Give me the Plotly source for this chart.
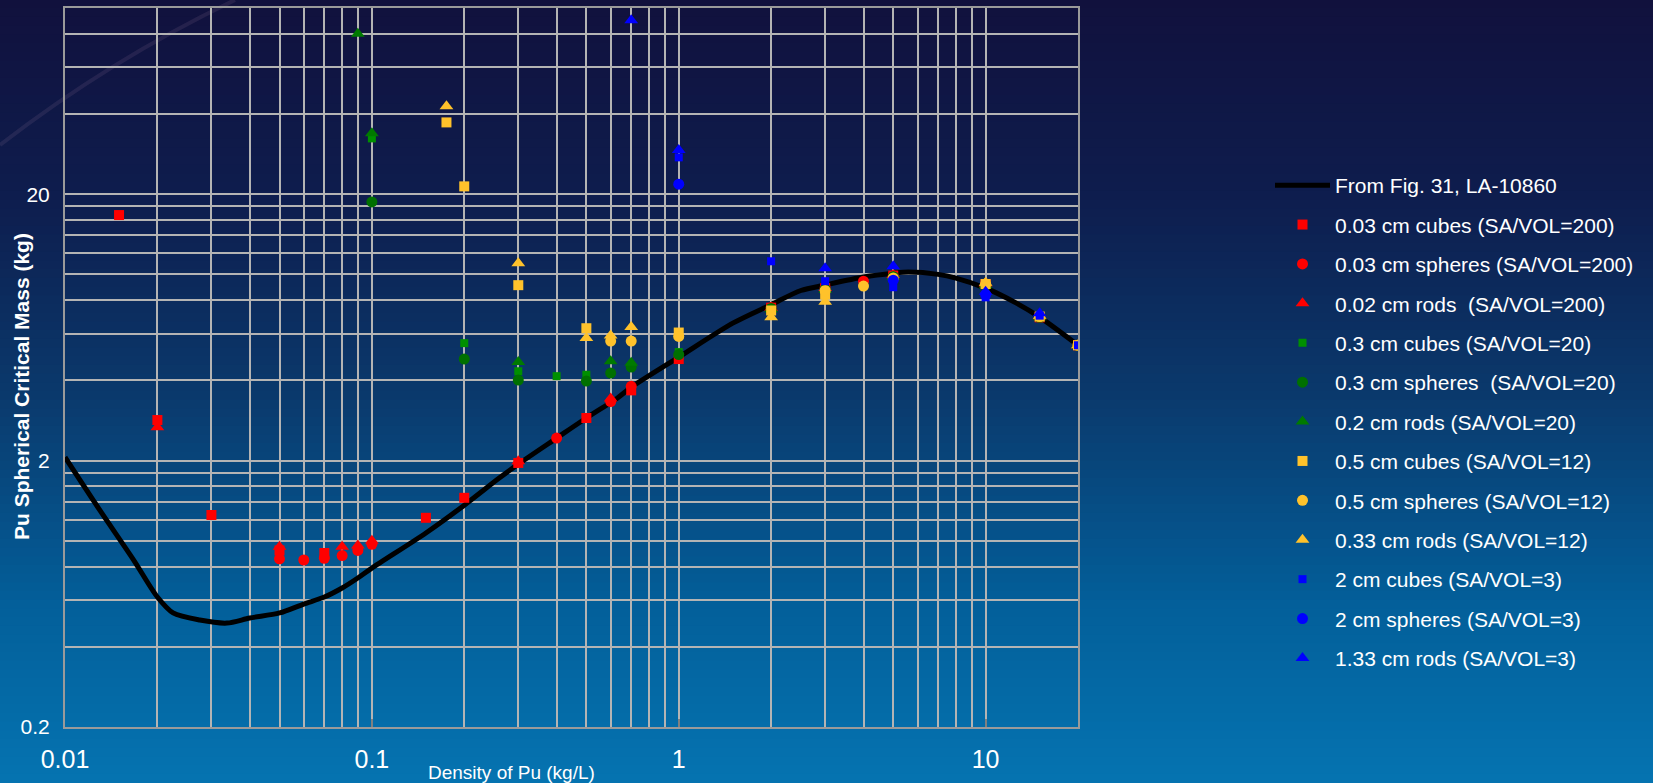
import math
import plotly.graph_objects as go

# ---------------- data ----------------
curve_x = [0.01, 0.013, 0.0167, 0.02, 0.0225, 0.0275, 0.0337, 0.04, 0.05, 0.06, 0.07, 0.08,
           0.09, 0.1, 0.15, 0.2, 0.26, 0.3, 0.4, 0.5, 0.63, 0.7, 1, 1.5, 2, 2.5, 3, 4, 5,
           5.6, 7, 8, 10, 12.6, 15, 20]
curve_y = [2.06, 1.30, 0.85, 0.615, 0.536, 0.504, 0.491, 0.513, 0.536, 0.579, 0.615, 0.665,
           0.725, 0.79, 1.07, 1.36, 1.72, 1.94, 2.43, 2.89, 3.43, 3.77, 4.89, 6.56, 7.7, 8.7,
           9.12, 9.77, 10.1, 10.2, 10.0, 9.68, 8.88, 7.8, 6.91, 5.42]

red_cubes_x = [0.015, 0.02, 0.03, 0.05, 0.07, 0.15, 0.2, 0.3, 0.5, 0.7, 1, 2, 3, 5, 10, 15, 20]
red_cubes_y = [16.7, 2.84, 1.25, 0.92, 0.90, 1.22, 1.45, 1.96, 2.89, 3.67, 4.81, 7.5, 8.88, 9.9, 9.2, 6.9, 5.42]
red_sph_x = [0.05, 0.06, 0.07, 0.08, 0.09, 0.1, 0.4, 0.6, 0.7, 2, 3, 4, 5, 10, 15, 20]
red_sph_y = [0.856, 0.847, 0.86, 0.88, 0.92, 0.97, 2.43, 3.33, 3.80, 7.5, 8.9, 9.43, 9.86, 9.2, 6.9, 5.42]
red_rod_x = [0.02, 0.05, 0.08, 0.09, 0.1, 0.3, 0.6, 2, 3, 5, 10, 15, 20]
red_rod_y = [2.67, 0.95, 0.95, 0.96, 1.0, 1.99, 3.42, 7.5, 8.9, 9.95, 9.25, 6.95, 5.42]

grn_cubes_x = [0.1, 0.2, 0.3, 0.4, 0.5, 1, 2, 3, 5, 10, 15, 20]
grn_cubes_y = [32.4, 5.52, 4.33, 4.15, 4.2, 5.11, 7.45, 8.8, 9.8, 9.1, 6.9, 5.42]
grn_sph_x = [0.1, 0.2, 0.3, 0.5, 0.6, 0.7, 1, 2, 3, 5, 10, 15, 20]
grn_sph_y = [18.7, 4.81, 4.01, 3.98, 4.26, 4.49, 5.0, 7.45, 8.8, 9.8, 9.1, 6.9, 5.42]
grn_rod_x = [0.09, 0.1, 0.3, 0.6, 0.7, 2, 3, 5, 10, 15, 20]
grn_rod_y = [80.0, 33.9, 4.69, 4.72, 4.66, 7.4, 8.75, 9.8, 9.1, 6.9, 5.42]

yel_cubes_x = [0.175, 0.2, 0.3, 0.5, 1, 2, 3, 10, 15, 20]
yel_cubes_y = [37.2, 21.4, 9.11, 6.28, 6.05, 7.32, 8.4, 9.2, 6.95, 5.42]
yel_sph_x = [0.6, 0.7, 1, 3, 4, 5, 10, 15, 20]
yel_sph_y = [5.62, 5.62, 5.85, 8.7, 9.04, 9.7, 9.2, 6.95, 5.42]
yel_rod_x = [0.175, 0.3, 0.5, 0.6, 0.7, 2, 3, 10, 15, 20]
yel_rod_y = [42.8, 11.0, 5.77, 5.9, 6.34, 6.91, 7.9, 9.3, 7.0, 5.42]

blu_cubes_x = [1, 2, 3, 5, 10, 15, 20]
blu_cubes_y = [27.5, 11.2, 9.43, 8.95, 8.2, 7.0, 5.42]
blu_sph_x = [1, 5, 10]
blu_sph_y = [21.8, 9.51, 8.4]
blu_rod_x = [0.7, 1, 3, 5, 10, 15]
blu_rod_y = [90.0, 29.3, 10.55, 10.74, 8.6, 7.15]

x_tickvals = [0.01, 0.1, 1, 10]
x_ticktext = ["0.01", "0.1", "1", "10"]
y_tickvals = [0.2, 2, 20]
y_ticktext = ["0.2", "2", "20"]

# ---------------- figure ----------------
W, H = 1653, 783
L, R, T, B = 65, 1078, 8, 727  # plot area pixel box
FONT = "Arial, Liberation Sans, sans-serif"

RED, GRN, YEL, BLU = "#ff0000", "#008000", "#ffc22b", "#0000ff"

series = [
    ("0.03 cm cubes (SA/VOL=200)", red_cubes_x, red_cubes_y, RED, "square", 10),
    ("0.03 cm spheres (SA/VOL=200)", red_sph_x, red_sph_y, RED, "circle", 11),
    ("0.02 cm rods  (SA/VOL=200)", red_rod_x, red_rod_y, RED, "triangle-up", 12),
    ("0.3 cm cubes (SA/VOL=20)", grn_cubes_x, grn_cubes_y, "#009000", "square", 8),
    ("0.3 cm spheres  (SA/VOL=20)", grn_sph_x, grn_sph_y, "#007000", "circle", 11),
    ("0.2 cm rods (SA/VOL=20)", grn_rod_x, grn_rod_y, "#007a00", "triangle-up", 12),
    ("0.5 cm cubes (SA/VOL=12)", yel_cubes_x, yel_cubes_y, YEL, "square", 10),
    ("0.5 cm spheres (SA/VOL=12)", yel_sph_x, yel_sph_y, YEL, "circle", 11),
    ("0.33 cm rods (SA/VOL=12)", yel_rod_x, yel_rod_y, YEL, "triangle-up", 12),
    ("2 cm cubes (SA/VOL=3)", blu_cubes_x, blu_cubes_y, BLU, "square", 8),
    ("2 cm spheres (SA/VOL=3)", blu_sph_x, blu_sph_y, BLU, "circle", 11),
    ("1.33 cm rods (SA/VOL=3)", blu_rod_x, blu_rod_y, BLU, "triangle-up", 12),
]

fig = go.Figure()
fig.add_trace(go.Scatter(x=curve_x, y=curve_y, mode="lines", name="From Fig. 31, LA-10860",
                         line=dict(color="black", width=5, shape="spline", smoothing=0.8),
                         legendgroup="g0"))
for i, (name, xs, ys, col, sym, sz) in enumerate(series):
    fig.add_trace(go.Scatter(x=xs, y=ys, mode="markers", name=name, legendgroup="g%d" % (i + 1),
                             marker=dict(color=col, symbol=sym, size=sz, line=dict(width=0))))

# background gradient (bands in paper coords)
stops = [(0, (17, 17, 61)), (200, (14, 29, 78)), (400, (10, 58, 109)),
         (600, (3, 94, 153)), (783, (5, 115, 177))]


def col_at(yp):
    for (y0, c0), (y1, c1) in zip(stops[:-1], stops[1:]):
        if y0 <= yp <= y1:
            t = (yp - y0) / (y1 - y0)
            return "rgb(%d,%d,%d)" % tuple(round(a + (b - a) * t) for a, b in zip(c0, c1))
    return "rgb(%d,%d,%d)" % stops[-1][1]


def px2paper_x(X):
    return (X - L) / (R - L)


def px2paper_y(Y):
    return (B - Y) / (B - T)


shapes = []
N = 90
for i in range(N):
    y0 = i * H / N
    y1 = (i + 1) * H / N
    shapes.append(dict(type="rect", xref="paper", yref="paper", layer="below",
                       x0=px2paper_x(-2), x1=px2paper_x(W + 2),
                       y0=px2paper_y(y0 - 0.6), y1=px2paper_y(y1 + 0.6),
                       fillcolor=col_at((y0 + y1) / 2), line=dict(width=0)))
# faint light streak top-left
sx = [px2paper_x(v) for v in (0, 110, 235)]
sy = [px2paper_y(v) for v in (145, 60, 0)]
shapes.append(dict(type="path", xref="paper", yref="paper", layer="below",
                   path="M%f,%f Q%f,%f %f,%f" % (sx[0], sy[0], sx[1], sy[1], sx[2], sy[2]),
                   line=dict(color="rgba(220,170,200,0.10)", width=4)))

minor_x = [k * d for d in (0.01, 0.1, 1, 10) for k in range(2, 10) if k * d <= 20.0001]
minor_y = [k * d for d in (0.2, 2, 20) for k in range(2, 10) if k * d <= 100.0001]

GRID = "#b4b4b4"
fig.update_layout(
    width=W, height=H,
    margin=dict(l=L, r=W - R, t=T, b=H - B, pad=0, autoexpand=False),
    paper_bgcolor="#0a3a6d", plot_bgcolor="rgba(0,0,0,0)",
    font=dict(family=FONT, color="white"),
    shapes=shapes,
    showlegend=True,
    legend=dict(x=px2paper_x(1270), y=px2paper_y(165), xanchor="left", yanchor="top",
                bgcolor="rgba(0,0,0,0)", borderwidth=0, itemwidth=55,
                traceorder="grouped", tracegroupgap=9.1,
                font=dict(family=FONT, size=21, color="white")),
    xaxis=dict(type="log", range=[-2, math.log10(20)], tickvals=x_tickvals, ticktext=x_ticktext,
               tickfont=dict(size=25, color="white", family=FONT),
               showgrid=True, gridcolor=GRID, gridwidth=1.5,
               minor=dict(tickvals=minor_x, showgrid=True, gridcolor=GRID, gridwidth=1.5, ticks=""),
               ticks="inside", ticklen=8, tickwidth=2, tickcolor="#808080",
               showline=True, linecolor="#9a9a9a", linewidth=2, mirror=True,
               ticklabelstandoff=9, zeroline=False),
    yaxis=dict(type="log", range=[math.log10(0.2), 2], tickvals=y_tickvals, ticktext=y_ticktext,
               tickfont=dict(size=21, color="white", family=FONT),
               showgrid=True, gridcolor=GRID, gridwidth=1.5,
               minor=dict(tickvals=minor_y, showgrid=True, gridcolor=GRID, gridwidth=1.5, ticks=""),
               ticks="", showline=True, linecolor="#9a9a9a", linewidth=2, mirror=True,
               ticklabelstandoff=9, zeroline=False),
    annotations=[
        dict(text="Density of Pu (kg/L)", xref="paper", yref="paper",
             x=px2paper_x(511), y=px2paper_y(772), xanchor="center", yanchor="middle",
             showarrow=False, font=dict(family=FONT, size=19, color="white")),
        dict(text="<b>Pu Spherical Critical Mass (kg)</b>", xref="paper", yref="paper",
             x=px2paper_x(22), y=px2paper_y(387), xanchor="center", yanchor="middle",
             textangle=-90, showarrow=False, font=dict(family=FONT, size=21, color="white")),
    ],
)

fig.write_html("out.html", config={"displayModeBar": False},
               post_script="document.body.style.margin='0';document.body.style.background='#0573b1';")
